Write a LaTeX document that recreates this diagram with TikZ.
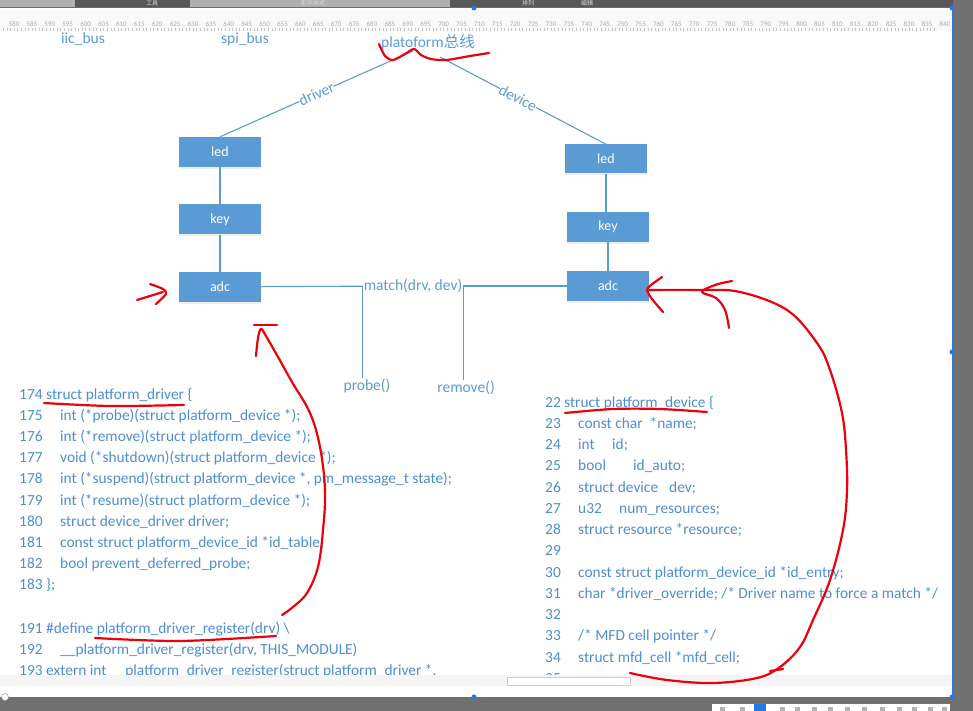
\documentclass[tikz,border=0pt]{standalone}
\usepackage{fontspec}
\setmainfont{Carlito}
\newfontfamily\cjk{Noto Sans CJK SC}
\usetikzlibrary{positioning, shadows}
\definecolor{officeblue}{RGB}{91,155,213}
\definecolor{codeblue}{RGB}{78,142,210}
\definecolor{penred}{RGB}{236,0,10}
\definecolor{chromegray}{RGB}{88,88,88}
\definecolor{framegray}{RGB}{112,112,112}
\definecolor{selblue}{RGB}{40,120,225}

\begin{document}
\begin{tikzpicture}[
    x=1pt, y=-1pt,
    node distance=37pt,
    block/.style={rectangle, fill=officeblue, text=white, minimum width=82pt,
                  minimum height=30pt, inner sep=0pt, font=\fontsize{14}{16}\selectfont,
                  drop shadow={opacity=0.12, shadow xshift=0pt, shadow yshift=-2pt}},
    wire/.style={draw=officeblue, line width=1.1pt},
    tag/.style={text=officeblue, inner sep=1pt, font=\fontsize{15.5}{17}\selectfont},
    code/.style={text=codeblue, anchor=base west, inner sep=0pt, font=\fontsize{15.4}{17}\selectfont},
    rulernum/.style={text=gray!65, inner sep=0pt, font=\fontsize{7}{8}\selectfont},
    pen/.style={draw=penred, line width=2.2pt, line cap=round, line join=round}
]
\useasboundingbox (0,0) rectangle (973,711);
\fill[white] (0,0) rectangle (973,711);

% window chrome
\fill[chromegray] (0,0) rectangle (973,8);
\fill[gray!62] (0,0) rectangle (75,7);
\fill[gray!62] (190,0) rectangle (450,7);
\foreach \x/\t in {152/工具, 313/形状样式, 528/排列, 587/编辑}
    \node[text=gray!30, inner sep=0pt, font=\cjk\fontsize{6}{7}\selectfont] at (\x,3) {\t};
\fill[gray!5] (0,10) rectangle (952,31);
\foreach \k in {0,...,262}
    \draw[gray!45, line width=0.3pt] ({-3.9+\k*3.58},28) -- ({-3.9+\k*3.58},31);
\foreach \n in {580,585,...,840}
    \node[rulernum] at ({14+(\n-580)*3.58},24) {\n};
\fill[framegray] (953,0) rectangle (973,711);
\fill[framegray] (0,698) rectangle (973,711);
\fill[white] (712,704) rectangle (950,711);
\fill[selblue] (754,704) rectangle (766,711);
\foreach \x in {720,740,780,795,812,828,845,862,880,897,912,928,942}
    \fill[gray!60] (\x,707) rectangle ++(5,4);

% bus
\node[tag] (plat) at (428,42) {platoform{\cjk 总线}};
\node[tag] (iic) at (83,39) {iic\_bus};
\node[tag] (spi) at (245,39) {spi\_bus};
\coordinate (platL) at (413,51);
\coordinate (platR) at (440,57);

% driver side
\node[block] (ledL) at (220,152) {led};
\node[block, below=of ledL] (keyL) {key};
\node[block, below=of keyL] (adcL) {adc};

% device side
\node[block, minimum height=29pt] (ledR) at (606,159) {led};
\node[block] (keyR) at (608,227) {key};
\node[block] (adcR) at (608,286) {adc};

\node[tag] (match) at (413,286) {match(drv, dev)};
\node[tag] (probe) at (367,386) {probe()};
\node[tag] (remove) at (466,388) {remove()};

\draw[wire] (ledL.north) -- node[tag, sloped, fill=white, inner sep=0pt] {driver} (platL);
\draw[wire] (platR) -- node[tag, sloped, fill=white, inner sep=0pt, pos=0.47] {device} (ledR.north);
\draw[wire] (ledL) -- (keyL);
\draw[wire] (keyL) -- (adcL);
\draw[wire] (ledR.south) -- (ledR.south |- keyR.north);
\draw[wire] (keyR) -- (adcR);
\draw[wire] (adcL) -- (match);
\draw[wire] (match) -- (adcR);
\draw[wire] (match.west) -- (match.west |- probe.north);
\draw[wire] (match.east) -- (match.east |- remove.north);

% platform_driver
\foreach \n/\x/\t [count=\i from 0] in {
    174/46/{struct platform\_driver \{},
    175/60/{int (*probe)(struct platform\_device *);},
    176/60/{int (*remove)(struct platform\_device *);},
    177/60/{void (*shutdown)(struct platform\_device *);},
    178/60/{int (*suspend)(struct platform\_device *, pm\_message\_t state);},
    179/60/{int (*resume)(struct platform\_device *);},
    180/60/{struct device\_driver driver;},
    181/60/{const struct platform\_device\_id *id\_table;},
    182/60/{bool prevent\_deferred\_probe;},
    183/46/{\};}}
{
    \node[code] (drvnum\i) at (19,{399+21.2*\i}) {\n};
    \node[code] (drvline\i) at (\x,{399+21.2*\i}) {\t};
}
\foreach \n/\x/\t [count=\i from 0] in {
    191/46/{\#define platform\_driver\_register(drv) \textbackslash},
    192/60/{\_\_platform\_driver\_register(drv, THIS\_MODULE)},
    193/46/{extern int \_\_platform\_driver\_register(struct platform\_driver *,}}
{
    \node[code] (regnum\i) at (19,{633+21*\i}) {\n};
    \node[code] (regline\i) at (\x,{633+21*\i}) {\t};
}

% platform_device
\foreach \n/\x/\t [count=\i from 0] in {
    22/564/{struct platform\_device \{},
    23/578/{const char\hspace{7pt}*name;},
    24/578/{\makebox[34pt][l]{int}id;},
    25/578/{\makebox[55pt][l]{bool}id\_auto;},
    26/578/{struct device\hspace{11pt}dev;},
    27/578/{\makebox[41pt][l]{u32}num\_resources;},
    28/578/{struct resource *resource;},
    29/578/{},
    30/578/{const struct platform\_device\_id *id\_entry;},
    31/578/{char *driver\_override; /* Driver name to force a match */},
    32/578/{},
    33/578/{/* MFD cell pointer */},
    34/578/{struct mfd\_cell *mfd\_cell;},
    35/578/{}}
{
    \node[code] (devnum\i) at (545,{407+21.25*\i}) {\n};
    \node[code] (devline\i) at (\x,{407+21.25*\i}) {\t};
}
\fill[gray!8] (0,675) rectangle (952,686);
\draw[gray!40, fill=white] (507,677) rectangle (630,685);

% selection frame
\draw[selblue, line width=1pt] (0,8) -- (952,8) -- (952,697) -- (0,697);
\foreach \x/\y in {474/8, 952/8, 952/352, 474/697, 952/697}
    \fill[selblue] (\x,\y) circle (2.5);
\draw[gray!70, fill=white, line width=0.6pt] (5,697) circle (3.5);

% red pen marks
\draw[pen] plot[smooth] coordinates {(379,44) (385,56) (393,60) (405,54) (414,49) (421,55) (431,59) (446,60) (470,56) (489,53)};
\draw[pen] (137,300) -- (163,292);
\draw[pen] plot[smooth] coordinates {(150,284) (163,289) (166,294) (156,304)};
\draw[pen] plot[smooth] coordinates {(44,403) (110,406) (184,405)};
\draw[pen] (254,325) -- (277,325);
\draw[pen] plot[smooth, tension=0.6] coordinates {(256,356) (258,338) (261,329) (266,336) (278,357) (292,382) (310,413) (320,447) (325,490) (323,530) (318,567) (307,593) (293,607) (282,615)};
\draw[pen] plot[smooth] coordinates {(95,638) (180,641) (276,636)};
\draw[pen] plot[smooth] coordinates {(565,413) (613,409) (660,409) (707,412)};
\draw[pen] plot[smooth, tension=0.4] coordinates {(662,277) (651,285) (647,290) (652,299) (663,312)};
\draw[pen] plot[smooth, tension=0.6] coordinates {(647,290) (700,290) (740,292) (787,310) (817,343) (830,370) (842,413) (846,450) (847,490) (843,530) (830,580) (813,620) (800,647) (780,667) (757,678) (713,683) (667,680) (630,673)};
\draw[pen] (770,671) -- (783,669);
\draw[pen] plot[smooth, tension=0.6] coordinates {(732,281) (715,285) (702,292) (716,298) (725,310) (729,328)};
\end{tikzpicture}
\end{document}
